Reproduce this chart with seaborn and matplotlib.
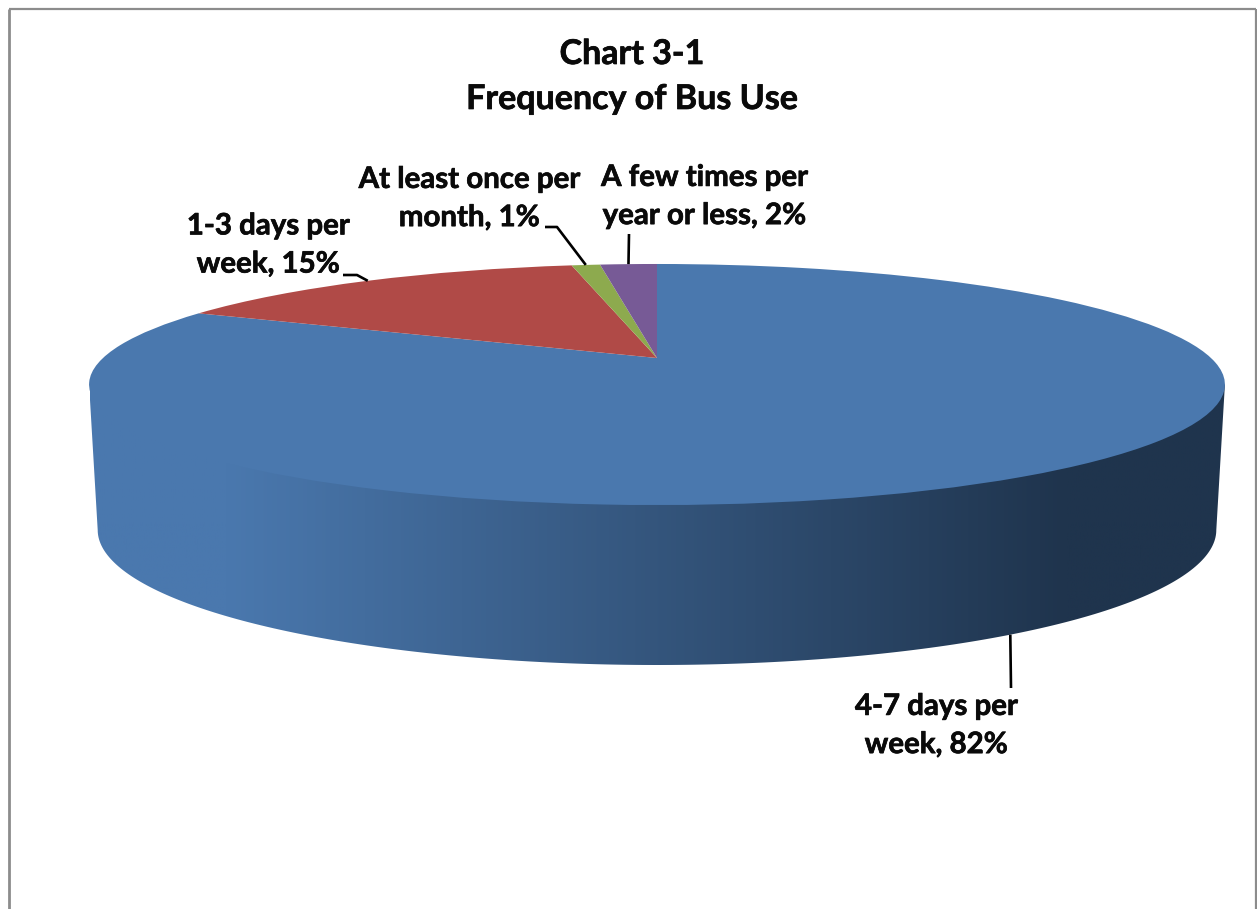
import numpy as np
import matplotlib
matplotlib.use("Agg")
import matplotlib.pyplot as plt
import matplotlib.patheffects as pe
from matplotlib.colors import LinearSegmentedColormap
from matplotlib.patches import Polygon
from matplotlib.transforms import Transform
import seaborn as sns

# Survey results
categories = ["4-7 days per\nweek", "1-3 days per\nweek", "At least once per\nmonth", "A few times per\nyear or less"]
shares = [82, 15, 1, 2]
title_lines = "Chart 3-1\nFrequency of Bus Use"
slice_colors = ["#4A78AE", "#B04A47", "#8DAA4E", "#775A96"]

W, H = 1257, 909
sns.set_theme(style="white")
plt.rcParams["font.family"] = ["Lato", "DejaVu Sans"]
palette = sns.color_palette(slice_colors)


class TiltedDisc(Transform):
    """Projects the unit disc of a pie onto a plane tilted away from the viewer."""
    input_dims = output_dims = 2
    is_separable = False
    has_inverse = False

    def __init__(self, cx, apex_y, radius, foreshorten, tilt):
        super().__init__()
        self.cx, self.apex_y, self.radius = cx, apex_y, radius
        self.foreshorten, self.tilt = foreshorten, tilt

    def transform_non_affine(self, values):
        values = np.asarray(values, dtype=float)
        w = 1 + self.tilt * values[:, 1]
        return np.column_stack([
            self.cx + self.radius * values[:, 0] / w,
            self.apex_y - self.foreshorten * values[:, 1] / w,
        ])

    def widest_angle(self):
        """Clockwise angle from the top at which the right side of the rim is widest."""
        return 90 + np.degrees(np.arcsin(self.tilt))


top_face = TiltedDisc(657, 358, 554, 114.7, 0.22)
base_face = TiltedDisc(657, 503, 548, 129.6, 0.20)


def rim_point(face, angle_deg):
    """Pixel position on a face's rim, angle measured from the top of the pie, clockwise."""
    a = np.radians(angle_deg)
    return face.transform_non_affine(np.array([[np.sin(a), np.cos(a)]]))[0]


fig = plt.figure(figsize=(W / 100, H / 100), dpi=100, facecolor="white")
ax = fig.add_axes([0, 0, 1, 1])

# Flat top of the pie, clockwise from twelve o'clock
wedges, _ = ax.pie(shares, colors=palette, startangle=90, counterclock=False, radius=1)
for wedge in wedges:
    wedge.set_transform(top_face + ax.transData)
    wedge.set_linewidth(0)
    wedge.set_zorder(3)

# Side wall: a horizontal shade clipped to the outline between the two rims
sweep = np.linspace(360 - base_face.widest_angle(), base_face.widest_angle(), 200)
wall_outline = np.vstack([[rim_point(base_face, a) for a in sweep],
                          rim_point(top_face, top_face.widest_angle()),
                          rim_point(top_face, 360 - top_face.widest_angle())])
shade = LinearSegmentedColormap.from_list(
    "wall", [(0.0, "#4A78AE"), (0.12, "#4A78AE"), (0.86, "#1F344D"), (1.0, "#1F344D")])
gradient = ax.imshow(np.linspace(0, 1, 512)[None, :], cmap=shade, aspect="auto",
                     extent=(90, 1226, 670, 380), zorder=2)
clip = Polygon(wall_outline, closed=True, transform=ax.transData, facecolor="none", edgecolor="none")
ax.add_patch(clip)
gradient.set_clip_path(clip)

ax.set_aspect("auto")
ax.set_xlim(0, W)
ax.set_ylim(H, 0)
ax.axis("off")

# Outer frame of the chart area
frame_color = "#8C8C8C"
ax.plot([9, 9], [H, 8.5], color=frame_color, lw=2.0, solid_capstyle="butt", zorder=1)
ax.plot([9, 1255.5], [8.5, 8.5], color=frame_color, lw=1.6, solid_capstyle="butt", zorder=1)
ax.plot([1255.5, 1255.5], [8.5, H], color=frame_color, lw=1.6, solid_capstyle="butt", zorder=1)

text_ink = "#0A0A0A"
weight_up = [pe.withStroke(linewidth=0.5, foreground=text_ink)]

# Title
ax.text(632, 76.5, title_lines, ha="center", va="center", fontsize=24.5, fontweight="bold",
        color=text_ink, linespacing=1.5, zorder=5, path_effects=weight_up)

# Data labels with leader lines that start at the middle of each slice's rim
edges = np.concatenate([[0], np.cumsum(shares)])
mid_angles = 360 * (edges[:-1] + edges[1:]) / 2 / edges[-1]
label_spots = [(936, 726), (268, 245.5), (469, 199), (704, 197)]
faces = [base_face, top_face, top_face, top_face]
elbows = [[(1011, 688)], [(357, 275), (343, 275)], [(557, 227), (545, 227)], [(629, 234)]]

for cat, val, angle, spot, bend, face in zip(categories, shares, mid_angles, label_spots, elbows, faces):
    ax.text(spot[0], spot[1], f"{cat}, {val}%", ha="center", va="center", fontsize=21.2,
            fontweight="bold", color=text_ink, linespacing=1.58, zorder=5, path_effects=weight_up)
    start = rim_point(face, angle)
    xs = [start[0]] + [p[0] for p in bend]
    ys = [start[1]] + [p[1] for p in bend]
    ax.plot(xs, ys, color="black", lw=1.9, solid_capstyle="butt", zorder=4)

fig.savefig("out.png", dpi=100, facecolor="white")
